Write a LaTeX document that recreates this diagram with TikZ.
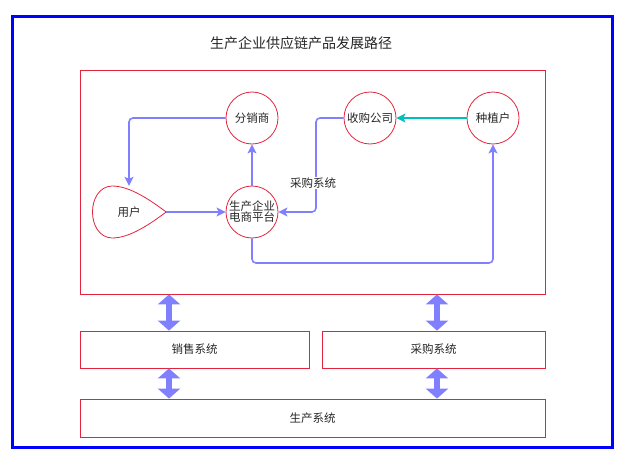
\documentclass[tikz,border=0pt]{standalone}
\usepackage{fontspec}
\setmainfont{Noto Sans CJK SC}
\usetikzlibrary{arrows.meta}
\usetikzlibrary{positioning}
\definecolor{framered}{RGB}{226,36,62}
\definecolor{flowblue}{RGB}{128,128,255}
\definecolor{teal2}{RGB}{0,190,190}
\tikzset{
    party/.style={
           circle,
           draw=framered, thick,
           minimum size=52pt,
           inner sep=0pt,
           align=center,
           },
    sysbox/.style={
           rectangle,
           draw=framered, thick,
           minimum height=37pt,
           inner sep=2pt,
           text centered,
           },
    flow/.style={
           draw=flowblue, line width=1.6pt,
           rounded corners=4pt,
           -{Stealth[length=9pt,width=9pt,inset=2pt]},
           },
    bothway/.style={
           draw=flowblue, line width=6pt,
           {Triangle[width=22pt,length=10pt]}-{Triangle[width=22pt,length=10pt]},
           },
}

\begin{document}
\begin{tikzpicture}[x=1pt, y=-1pt, font=\fontsize{11.5}{13}\selectfont, text=black!85]
	\useasboundingbox (0,0) rectangle (631,460);
	
	\node[draw=blue, line width=3pt, minimum width=600pt, minimum height=430pt] (outer) at (312,232) {};
	\node[font=\fontsize{14}{16}\selectfont] (title) at (301,43) {生产企业供应链产品发展路径};
	
	\node[draw=framered, thick, minimum width=465pt, minimum height=224pt] (inner) at (312.5,182) {};
	
	\node[party] (fenxiao) at (252,118) {分销商};
	\node[party] (shougou) at (370,118) {收购公司};
	\node[party] (zhongzhi) at (493,118) {种植户};
	\node[party] (pingtai) at (252,212) {生产企业\\[-2pt]电商平台};
	
	% user drop shape
	\node[minimum width=74pt, minimum height=52pt, inner sep=0pt] (yonghu) at (129,212) {用户};
	\draw[framered, thick] (yonghu.east)
		.. controls (150,200) and (130,186) .. (112,186)
		.. controls (86,187) and (86,237) .. (112,238)
		.. controls (130,238) and (150,224) .. (yonghu.east);
	
	\draw[flow] (fenxiao.west) -- (129,118) -- (yonghu.north);
	\draw[flow] (pingtai.north) -- (fenxiao.south);
	\draw[flow] (yonghu.east) -- (pingtai.west);
	\draw[flow] (shougou.west) -- (316,118) -- (316,212) -- (pingtai.east);
	\node[fill=white, inner sep=1pt] (caigoulbl) at (313,183) {采购系统};
	\draw[flow] (pingtai.south) -- (252,263) -- (493,263) -- (zhongzhi.south);
	\draw[flow, draw=teal2] (zhongzhi.west) -- (shougou.east);
	
	\node[sysbox, minimum width=229pt] (xiaoshou) at (194.5,349.5) {销售系统};
	\node[sysbox, minimum width=223pt] (caigou) at (433.5,349.5) {采购系统};
	\node[sysbox, minimum width=465pt, minimum height=38pt] (shengchan) at (312.5,418) {生产系统};
	
	\coordinate (lx) at (169,0);
	\coordinate (rx) at (437,0);
	\draw[bothway] (inner.south -| lx) -- (xiaoshou.north -| lx);
	\draw[bothway] (inner.south -| rx) -- (caigou.north -| rx);
	\draw[bothway] (xiaoshou.south -| lx) -- (shengchan.north -| lx);
	\draw[bothway] (caigou.south -| rx) -- (shengchan.north -| rx);

\end{tikzpicture}
\end{document}
